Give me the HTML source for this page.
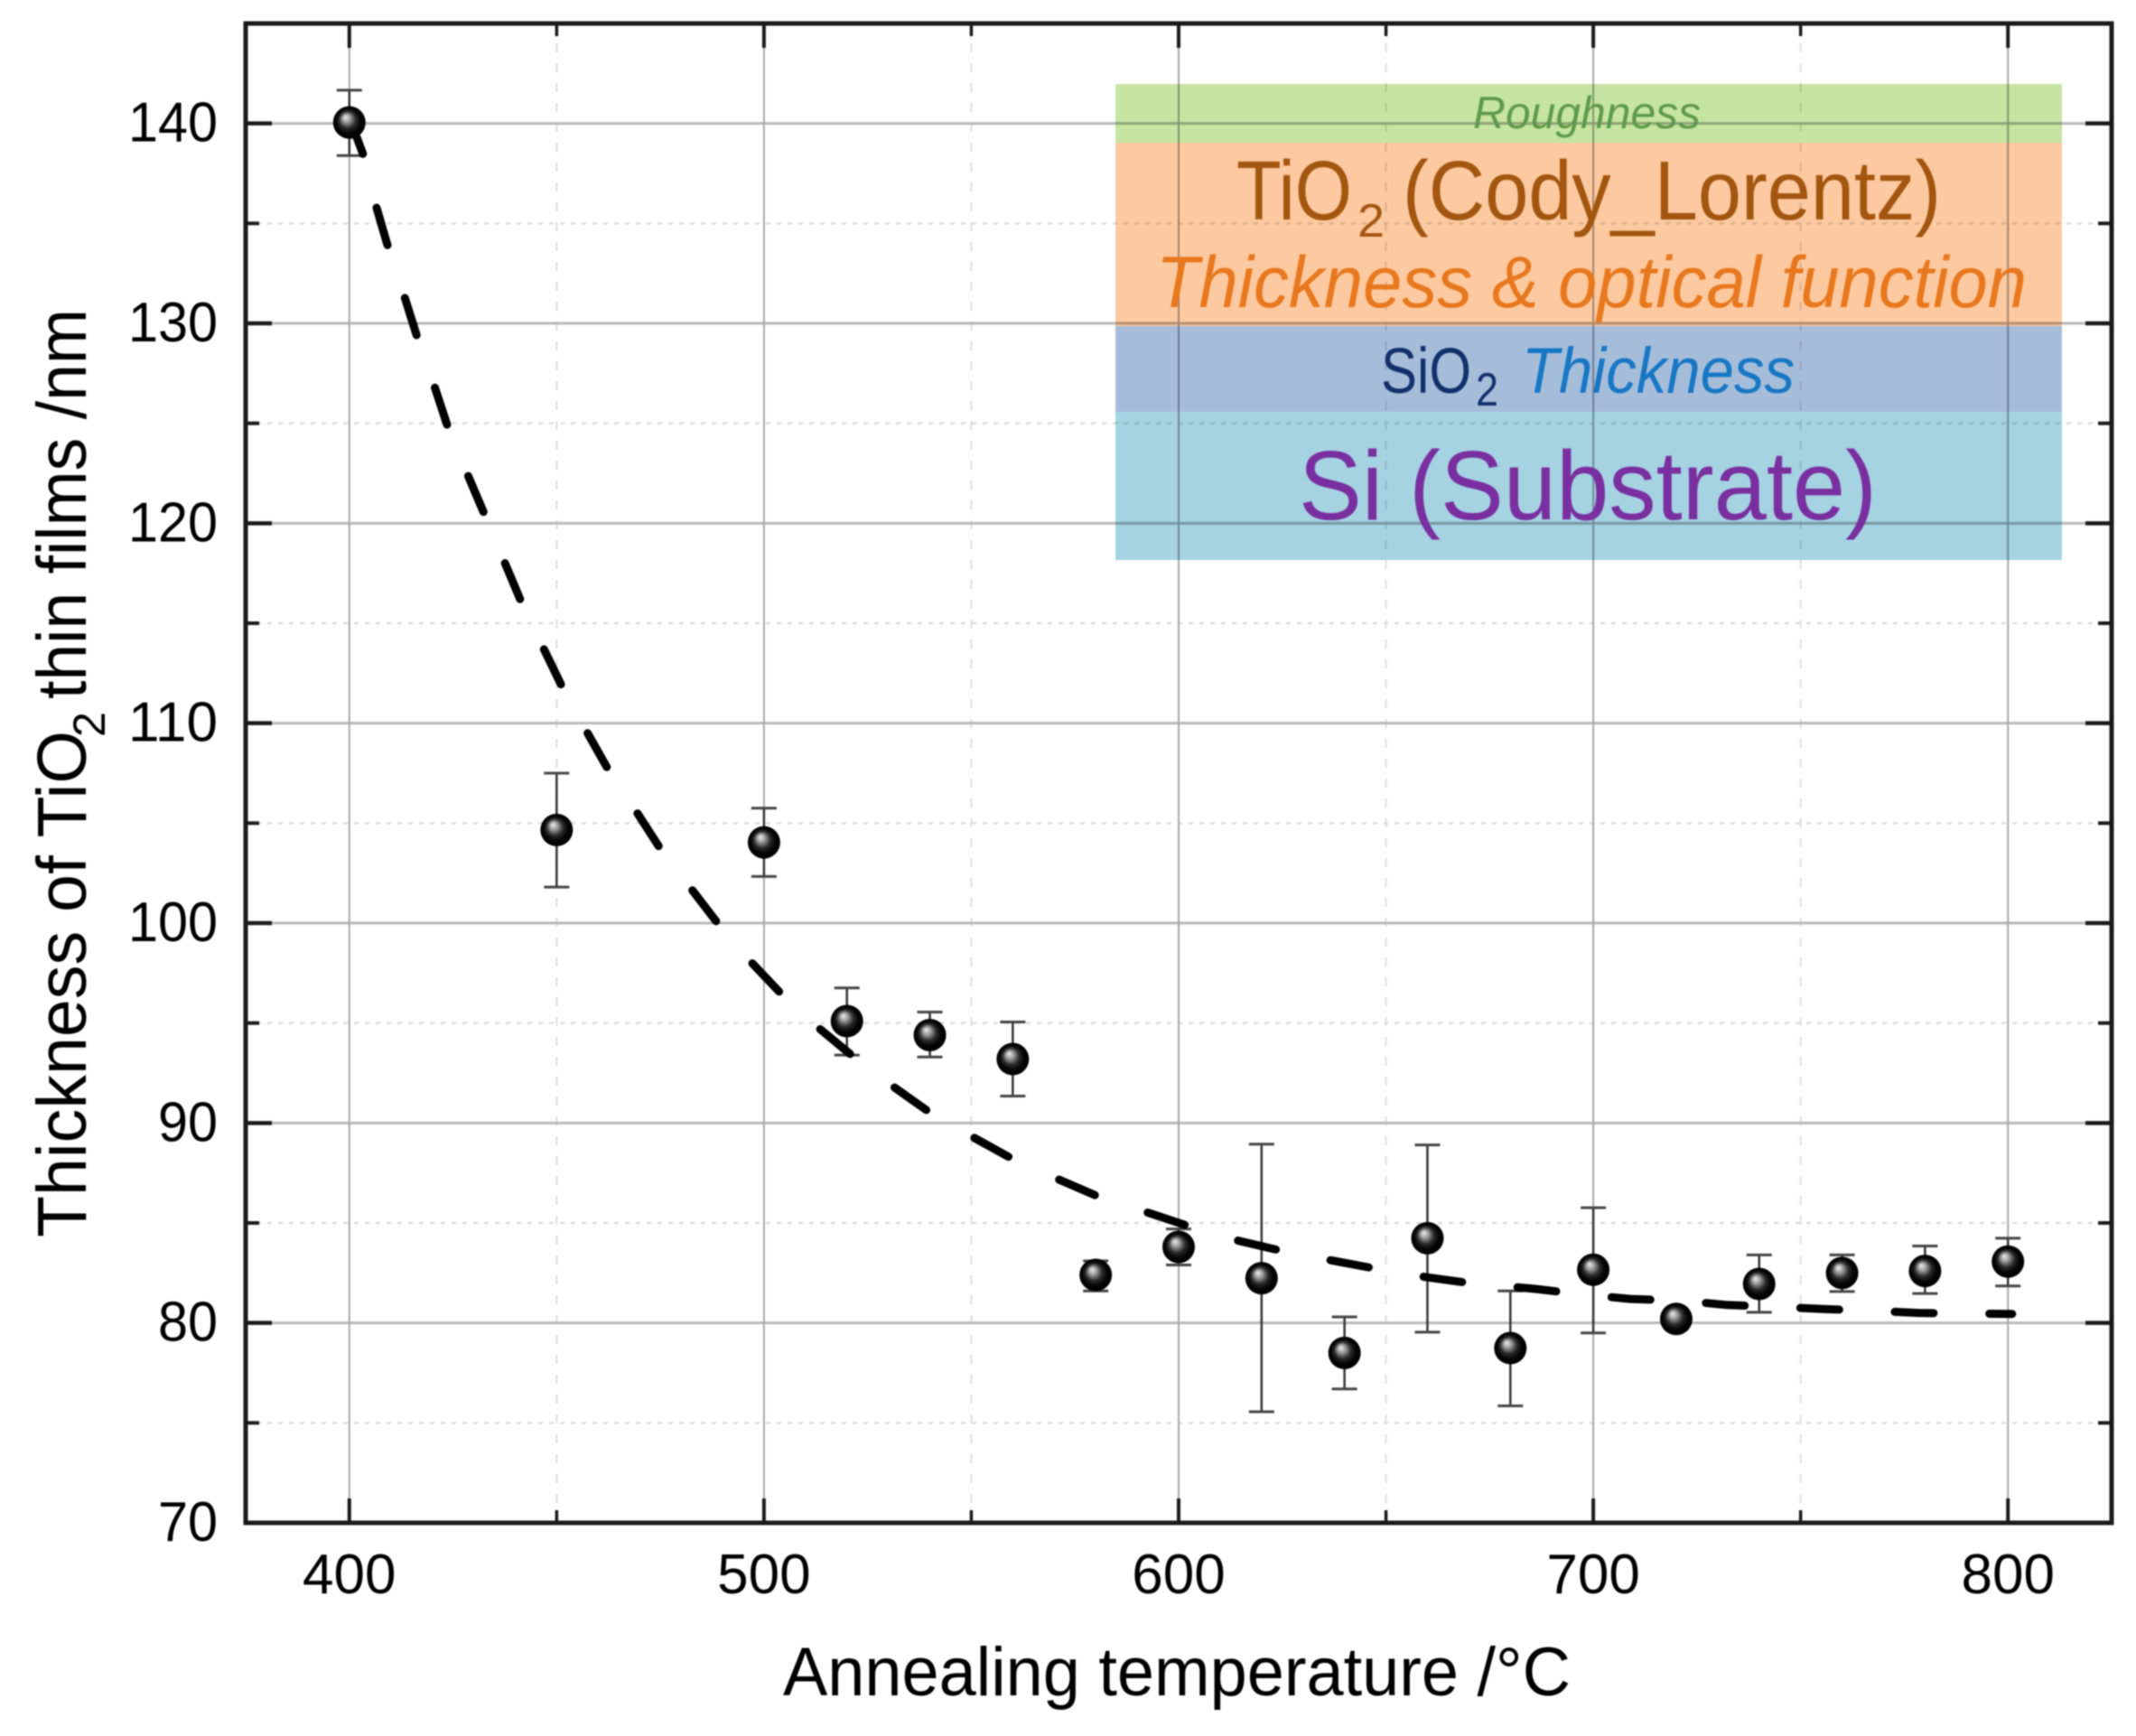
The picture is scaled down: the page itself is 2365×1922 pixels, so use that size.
<!DOCTYPE html>
<html lang="en">
<head>
<meta charset="utf-8">
<title>Thickness of TiO2 thin films vs annealing temperature</title>
<style>
html,body{margin:0;padding:0;background:#fff;}
svg{display:block;filter:blur(0.7px);}
text{font-family:"Liberation Sans",sans-serif;}
</style>
</head>
<body>
<svg id="chart" xmlns="http://www.w3.org/2000/svg" width="2365" height="1922" viewBox="0 0 2365 1922">
  <defs>
    <radialGradient id="ball" cx="50%" cy="50%" r="50%" fx="38%" fy="33%">
      <stop offset="0" stop-color="#eeeeee"/>
      <stop offset="0.22" stop-color="#a8a8a8"/>
      <stop offset="0.52" stop-color="#2a2a2a"/>
      <stop offset="0.75" stop-color="#050505"/>
      <stop offset="1" stop-color="#000000"/>
    </radialGradient>
  </defs>
  <rect width="2365" height="1922" fill="#ffffff"/>
  <g id="grid"></g>
  <g id="ticks"></g>
  <g id="labels"></g>
  <rect x="272" y="26" width="2066" height="1660" fill="none" stroke="#1a1a1a" stroke-width="5"/>

  <g id="layer-stack">
    <rect x="1235" y="93" width="1048" height="65" fill="#c6e5a3" style="mix-blend-mode:multiply"/>
    <rect x="1235" y="158" width="1048" height="203" fill="#fdc9a0" style="mix-blend-mode:multiply"/>
    <rect x="1235" y="361" width="1048" height="95" fill="#a6bdda" style="mix-blend-mode:multiply"/>
    <rect x="1235" y="456" width="1048" height="164" fill="#a5d3e2" style="mix-blend-mode:multiply"/>
    <text x="1631" y="142" font-size="50" font-style="italic" fill="#5f9a4c" textLength="252" lengthAdjust="spacingAndGlyphs">Roughness</text>
    <text x="1369" y="243" font-size="93" fill="#a2560f" textLength="128" lengthAdjust="spacingAndGlyphs">TiO</text>
    <text x="1503" y="262" font-size="52" fill="#a2560f" textLength="30" lengthAdjust="spacingAndGlyphs">2</text>
    <text x="1553" y="243" font-size="93" fill="#a2560f" textLength="596" lengthAdjust="spacingAndGlyphs">(Cody_Lorentz)</text>
    <text x="1280" y="340" font-size="81" font-style="italic" fill="#e8781e" textLength="964" lengthAdjust="spacingAndGlyphs">Thickness &amp; optical function</text>
    <text x="1529" y="435" font-size="71" fill="#14306b" textLength="100" lengthAdjust="spacingAndGlyphs">SiO</text>
    <text x="1634" y="449" font-size="52" fill="#14306b" textLength="25" lengthAdjust="spacingAndGlyphs">2</text>
    <text x="1685" y="435" font-size="71" font-style="italic" fill="#1777c4" textLength="302" lengthAdjust="spacingAndGlyphs">Thickness</text>
    <text x="1438" y="575" font-size="109" fill="#7a2fa0" textLength="640" lengthAdjust="spacingAndGlyphs">Si (Substrate)</text>
  </g>

  <g id="errors"></g>
  <polyline id="fit" fill="none" stroke="#000000" stroke-width="9" stroke-linecap="round" stroke-linejoin="round" stroke-dasharray="43 61.7"></polyline>
  <g id="points"></g>

  <text x="867" y="1877" font-size="76" fill="#000000" textLength="872" lengthAdjust="spacingAndGlyphs">Annealing temperature /°C</text>
  <text transform="translate(95 1370) rotate(-90)" font-size="77" fill="#000000" textLength="561" lengthAdjust="spacingAndGlyphs">Thickness of TiO</text>
  <text transform="translate(116 816) rotate(-90)" font-size="50" fill="#000000" textLength="28" lengthAdjust="spacingAndGlyphs">2</text>
  <text transform="translate(95 774) rotate(-90)" font-size="77" fill="#000000" textLength="432" lengthAdjust="spacingAndGlyphs">thin films /nm</text>
</svg>
<script>
const temperatures = [400,450,500,520,540,560,580,600,620,640,660,680,700,720,740,760,780,800];
const thickness = [140.05,104.66,104.04,95.1,94.4,93.2,82.4,83.8,82.24,78.5,84.24,78.74,82.66,80.2,81.95,82.5,82.6,83.07];
const errorLow = [138.39,101.8,102.33,93.4,93.3,91.35,81.6,82.9,75.56,76.7,79.54,75.85,79.5,80.0,80.53,81.57,81.47,81.85];
const errorHigh = [141.66,107.5,105.75,96.76,95.55,95.05,83.1,84.7,88.94,80.3,88.9,81.6,85.76,80.4,83.4,83.4,83.85,84.24];
const fitTemps = [400,403.6,406.4,409.5,413.2,416.7,420.6,424.1,432.9,441.8,452.3,462.9,469.6,475.5,482.7,489.4,497,504.9,513.5,522,531,539.9,550.4,560.2,571.6,581.3,593,603,614.6,625,637.6,647.9,659.4,669.9,675.5,686,698.5,708.9,722,732,744.8,755.3,767.7,778.4,790,801];
const fitValues = [140.3,138.3,135.9,133.7,131.4,129.1,126.8,124.6,120.3,115.9,111.4,107.5,105.46,103.56,101.65,99.84,98.03,96.3,94.7,93.24,91.85,90.54,89.29,88.17,87.13,86.26,85.49,84.8,84.1,83.6,83.1,82.7,82.3,82.0,81.9,81.7,81.4,81.2,81.1,80.9,80.8,80.7,80.6,80.5,80.47,80.45];
const xMajorTicks = [400,500,600,700,800];
const xMinorTicks = [450,550,650,750];
const yMajorTicks = [70,80,90,100,110,120,130,140];
const yMinorTicks = [75,85,95,105,115,125,135];

const X_DOMAIN = [375, 825];
const Y_DOMAIN = [70, 145];
const PLOT = {left: 272, right: 2338, top: 26, bottom: 1686};
const NS = 'http://www.w3.org/2000/svg';

function sx(t) {
  return PLOT.left + (t - X_DOMAIN[0]) * (PLOT.right - PLOT.left) / (X_DOMAIN[1] - X_DOMAIN[0]);
}
function sy(v) {
  return PLOT.bottom - (v - Y_DOMAIN[0]) * (PLOT.bottom - PLOT.top) / (Y_DOMAIN[1] - Y_DOMAIN[0]);
}
function makeLine(parent, x1, y1, x2, y2, color, width, dash) {
  const l = document.createElementNS(NS, 'line');
  l.setAttribute('x1', x1);
  l.setAttribute('y1', y1);
  l.setAttribute('x2', x2);
  l.setAttribute('y2', y2);
  l.setAttribute('stroke', color);
  l.setAttribute('stroke-width', width);
  if (dash) l.setAttribute('stroke-dasharray', dash);
  parent.appendChild(l);
  return l;
}
function makeText(parent, x, y, str, anchor, fit) {
  const t = document.createElementNS(NS, 'text');
  t.setAttribute('x', x);
  t.setAttribute('y', y);
  t.setAttribute('font-size', '62');
  t.setAttribute('fill', '#000000');
  t.setAttribute('text-anchor', anchor);
  if (fit) {
    t.setAttribute('textLength', str.length * 33);
    t.setAttribute('lengthAdjust', 'spacingAndGlyphs');
  }
  t.textContent = str;
  parent.appendChild(t);
  return t;
}

const grid = document.getElementById('grid');
const ticks = document.getElementById('ticks');
const labels = document.getElementById('labels');
const errors = document.getElementById('errors');
const points = document.getElementById('points');

yMinorTicks.forEach(function (v) {
  const g = makeLine(grid, PLOT.left, sy(v), PLOT.right, sy(v), '#dedede', 2.5, '5 7');
  
  
  const a = makeLine(ticks, PLOT.left, sy(v), PLOT.left + 15, sy(v), '#1a1a1a', 4);
  
  
  const b = makeLine(ticks, PLOT.right - 15, sy(v), PLOT.right, sy(v), '#1a1a1a', 4);
  
  
});
xMinorTicks.forEach(function (t) {
  const g = makeLine(grid, sx(t), PLOT.top, sx(t), PLOT.bottom, '#dedede', 2, '10 12');
  
  
  const a = makeLine(ticks, sx(t), PLOT.bottom - 14, sx(t), PLOT.bottom, '#1a1a1a', 3.5);
  
  
  const b = makeLine(ticks, sx(t), PLOT.top, sx(t), PLOT.top + 14, '#1a1a1a', 3.5);
  
  
});
yMajorTicks.forEach(function (v) {
  if (v !== 70) {
    const g = makeLine(grid, PLOT.left, sy(v), PLOT.right, sy(v), '#b8b8b8', 3);
    
    
  }
  const a = makeLine(ticks, PLOT.left, sy(v), PLOT.left + 29, sy(v), '#1a1a1a', 4.5);
  
  
  const b = makeLine(ticks, PLOT.right - 29, sy(v), PLOT.right, sy(v), '#1a1a1a', 4.5);
  
  
  const lab = makeText(labels, 241, sy(v) + 20, String(v), 'end', true);
  
  
});
xMajorTicks.forEach(function (t) {
  const g = makeLine(grid, sx(t), PLOT.top, sx(t), PLOT.bottom, '#a8a8a8', 2);
  
  
  const a = makeLine(ticks, sx(t), PLOT.bottom - 27, sx(t), PLOT.bottom, '#1a1a1a', 4);
  
  
  const b = makeLine(ticks, sx(t), PLOT.top, sx(t), PLOT.top + 27, '#1a1a1a', 4);
  
  
  const lab = makeText(labels, sx(t), 1764, String(t), 'middle', false);
  
  
});

temperatures.forEach(function (t, i) {
  const stem = makeLine(errors, sx(t), sy(errorLow[i]), sx(t), sy(errorHigh[i]), '#333333', 2.5);
  
  
  const capHigh = makeLine(errors, sx(t) - 14, sy(errorHigh[i]), sx(t) + 14, sy(errorHigh[i]), '#444444', 3);
  
  
  const capLow = makeLine(errors, sx(t) - 14, sy(errorLow[i]), sx(t) + 14, sy(errorLow[i]), '#444444', 3);
  
  

  const c = document.createElementNS(NS, 'circle');
  c.setAttribute('cx', sx(t));
  c.setAttribute('cy', sy(thickness[i]));
  c.setAttribute('r', 18);
  c.setAttribute('fill', 'url(#ball)');
  
  
  points.appendChild(c);
});

document.getElementById('fit').setAttribute('points', fitTemps.map(function (t, i) {
  return sx(t).toFixed(1) + ',' + sy(fitValues[i]).toFixed(1);
}).join(' '));
</script>
</body>
</html>
